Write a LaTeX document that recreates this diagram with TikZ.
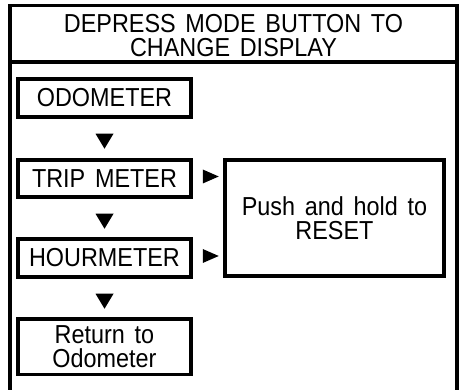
\documentclass[tikz,border=0pt]{standalone}
\usepackage{fontspec}
\setmainfont{Liberation Sans}[FakeStretch=0.9,WordSpace=1.5]
\usetikzlibrary{calc}
\begin{document}
\begin{tikzpicture}[x=1pt,y=-1pt,
  frame/.style={line width=3.5pt},
  box/.style={draw,line width=3.5pt,inner sep=0pt,minimum width=173pt,
    font=\fontsize{26}{24}\selectfont},
  lbl/.style={inner sep=0pt,align=center,font=\fontsize{26}{24}\selectfont},
  tri/.style={fill=black}]
\useasboundingbox (0,0) rectangle (461,390);
% outer frame (open at the bottom)
\draw[frame,line cap=rect] (10,390) -- (10,5.5) -- (457,5.5) -- (457,390);
\draw[frame] (10,62) -- (457,62);
\node[lbl] (title) at (233.5,36) {DEPRESS MODE BUTTON TO\\CHANGE DISPLAY};
% boxes
\node[box,minimum height=38pt] (odo) at (104.5,98) {ODOMETER};
\node[box,minimum height=37pt] (trip) at (104.5,178.5) {TRIP METER};
\node[box,minimum height=38pt] (hour) at (104.5,258) {HOURMETER};
\node[box,minimum height=55.5pt,align=center] (ret) at (104.5,346.75) {Return to\\Odometer};
\node[box,minimum width=219pt,minimum height=116pt,align=center] (reset) at (334.5,218) {Push and hold to\\RESET};
% down arrowheads
\foreach \a in {odo,trip,hour}{
  \fill[tri] ($(\a.south)+(-9,15)$) -- ++(18,0) -- ++(-9,15) -- cycle;
}
% right arrowheads
\foreach \a in {trip,hour}{
  \fill[tri] ($(\a.east)+(10,-9)$) -- ++(0,14) -- ++(16,-7) -- cycle;
}
\end{tikzpicture}
\end{document}
